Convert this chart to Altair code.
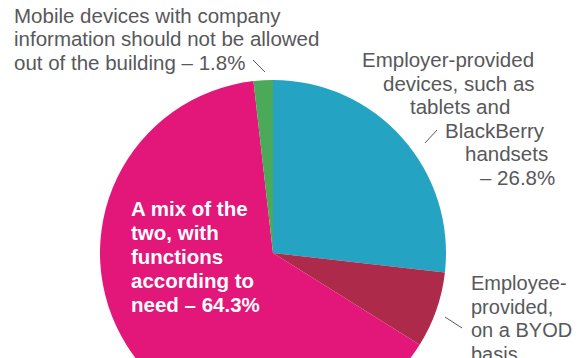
import altair as alt
import pandas as pd

# ---- data ----
categories = [
    "Employer-provided devices",
    "Employee-provided, BYOD",
    "A mix of the two",
    "Not allowed out of the building",
]
shares = [26.8, 7.1, 64.3, 1.8]
slice_order = [1, 2, 3, 4]
colors = ["#25a3c2", "#ad2a4a", "#e3167a", "#4aaa5a"]

label_mobile = ["Mobile devices with company",
                "information should not be allowed",
                "out of the building \u2013 1.8%"]
label_employer = ["Employer-provided", "devices, such as", "tablets and",
                  "BlackBerry", "handsets", "\u2013 26.8%"]
label_employee = ["Employee-", "provided,", "on a BYOD", "basis", "\u2013 7.1%"]
label_mix = ["A mix of the", "two, with", "functions", "according to",
             "need \u2013 64.3%"]

df = pd.DataFrame({"category": categories, "share": shares, "order": slice_order})

FONT = "Liberation Sans"
GREY = "#58585a"
FS = 20.5


pie = alt.Chart(df).mark_arc(radius=173).encode(
    theta=alt.Theta("share:Q", stack=True),
    order=alt.Order("order:Q"),
    color=alt.Color("category:N",
                    scale=alt.Scale(domain=categories, range=colors),
                    legend=None),
    x=alt.value(265),
    y=alt.value(245),
)


def text_line(line, x, y, color=GREY, bold=False, size=FS):
    d = pd.DataFrame({"label": [line]})
    return alt.Chart(d).mark_text(
        align="left", baseline="alphabetic", font=FONT, fontSize=size,
        fontWeight="bold" if bold else "normal", color=color,
    ).encode(text="label:N", x=alt.value(x), y=alt.value(y))


def leader(x1, y1, x2, y2, color=GREY, width=1):
    d = pd.DataFrame({"k": [0]})
    return alt.Chart(d).mark_rule(color=color, strokeWidth=width).encode(
        x=alt.value(x1), y=alt.value(y1), x2=alt.value(x2), y2=alt.value(y2))


layers = [pie]
for i, s in enumerate(label_mobile):
    layers.append(text_line(s, 6, 14.5 + 23.5 * i))
emp_x = [354, 375, 402, 437, 457, 472]
emp_y = [59, 82.5, 106, 129.5, 153, 176.5]
for s, xx, yy in zip(label_employer, emp_x, emp_y):
    layers.append(text_line(s, xx, yy))
for i, s in enumerate(label_employee):
    layers.append(text_line(s, 463, 282 + 23.5 * i, size=20))
for i, s in enumerate(label_mix):
    layers.append(text_line(s, 123, 208 + 24 * i, color="white", bold=True))
layers.append(leader(245, 52, 257, 64))
layers.append(leader(417, 135, 429, 122))
layers.append(leader(437, 309, 454, 320))

chart = alt.layer(*layers).properties(
    width=564, height=350, autosize="none", padding=0, background="white"
).configure_view(stroke=None)

chart.save("out.html", embed_options={"renderer": "svg", "actions": False})
